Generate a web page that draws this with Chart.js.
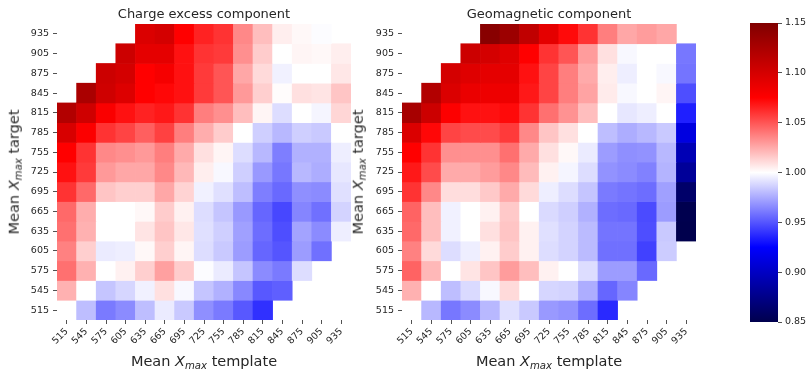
<!DOCTYPE html>
<html>
<head>
<meta charset="utf-8">
<script src="https://cdn.jsdelivr.net/npm/chart.js@4.4.1/dist/chart.umd.min.js"></script>
<style>
  body { margin: 0; width: 811px; height: 371px; background: #fff; position: relative; overflow: hidden;
         font-family: 'DejaVu Sans', sans-serif; color: #262626; }
  canvas { position: absolute; top: 0; }
  .title { position: absolute; font-size: 13px; line-height: 1; white-space: nowrap; transform: translateX(-50%); }
  .xlab { position: absolute; font-size: 14.5px; line-height: 1; white-space: nowrap; transform: translateX(-50%); }
  .ylab { position: absolute; font-size: 14.5px; line-height: 1; white-space: nowrap; transform: translate(-50%, -50%) rotate(-90deg); }
  .ax { font-style: italic; }
  .ax sub { font-size: 70%; vertical-align: baseline; position: relative; top: 0.3em; }
</style>
</head>
<body>
<canvas id="left" width="360" height="371" style="left:0px"></canvas>
<canvas id="right" width="360" height="371" style="left:345px"></canvas>
<canvas id="cbar" width="71" height="371" style="left:740px"></canvas>

<div class="title" style="left:204px; top:7px">Charge excess component</div>
<div class="title" style="left:549px; top:7px">Geomagnetic component</div>
<div class="xlab" style="left:204px; top:354px">Mean <span class="ax">X<sub>max</sub></span> template</div>
<div class="xlab" style="left:549px; top:354px">Mean <span class="ax">X<sub>max</sub></span> template</div>
<div class="ylab" style="left:14px; top:172px">Mean <span class="ax">X<sub>max</sub></span> target</div>
<div class="ylab" style="left:358px; top:172px">Mean <span class="ax">X<sub>max</sub></span> target</div>

<script>
// axes: template Xmax (columns), target Xmax (rows, top to bottom)
const xTemplates = [515, 545, 575, 605, 635, 665, 695, 725, 755, 785, 815, 845, 875, 905, 935]
const yTargets = [935, 905, 875, 845, 815, 785, 755, 725, 695, 665, 635, 605, 575, 545, 515]
const colorTicks = [0.85, 0.90, 0.95, 1.00, 1.05, 1.10, 1.15]

// ratio per cell, rows follow yTargets (null = no cell)
const chargeExcess = [
  [null, null, null, null, 1.096, 1.100, 1.075, 1.065, 1.060, 1.035, 1.019, 1.005, 1.002, 0.999, null],
  [null, null, null, 1.105, 1.090, 1.090, 1.070, 1.060, 1.058, 1.033, 1.015, 1.000, 1.003, 1.002, 1.005],
  [null, null, 1.105, 1.100, 1.075, 1.080, 1.070, 1.058, 1.050, 1.026, 1.011, 0.996, 1.000, 1.000, 1.007],
  [null, 1.125, 1.103, 1.095, 1.075, 1.073, 1.070, 1.058, 1.050, 1.030, 1.014, 1.001, 1.009, 1.008, 1.017],
  [1.120, 1.103, 1.078, 1.070, 1.065, 1.068, 1.060, 1.038, 1.033, 1.019, 1.003, 0.990, 1.000, 0.997, 1.012],
  [1.098, 1.077, 1.060, 1.055, 1.047, 1.056, 1.038, 1.024, 1.015, 1.000, 0.986, 0.979, 0.986, 0.984, 1.000],
  [1.075, 1.060, 1.035, 1.033, 1.030, 1.038, 1.025, 1.009, 1.003, 0.990, 0.979, 0.962, 0.977, 0.977, 0.995],
  [1.070, 1.058, 1.030, 1.026, 1.026, 1.035, 1.021, 1.005, 0.998, 0.986, 0.970, 0.960, 0.979, 0.976, 0.993],
  [1.060, 1.044, 1.017, 1.014, 1.014, 1.026, 1.013, 0.996, 0.991, 0.981, 0.962, 0.956, 0.967, 0.966, 0.991],
  [1.044, 1.024, 1.000, 1.000, 1.002, 1.015, 1.004, 0.990, 0.983, 0.970, 0.955, 0.946, 0.964, 0.958, 0.987],
  [1.042, 1.023, 1.000, 1.000, 1.008, 1.017, 1.007, 0.991, 0.986, 0.972, 0.957, 0.948, 0.973, 0.966, 0.995],
  [1.037, 1.014, 0.994, 0.995, 1.002, 1.014, 1.003, 0.990, 0.984, 0.971, 0.955, 0.950, 0.971, 0.958, null],
  [1.042, 1.023, 1.000, 1.004, 1.014, 1.028, 1.015, 0.999, 0.994, 0.983, 0.966, 0.961, 0.990, null, null],
  [1.023, 1.000, 0.983, 0.988, 0.996, 1.009, 0.998, 0.983, 0.977, 0.965, 0.951, 0.953, null, null, null],
  [1.000, 0.981, 0.961, 0.966, 0.981, 0.994, 0.984, 0.967, 0.961, 0.951, 0.939, null, null, null, null]
]

const geomagnetic = [
  [null, null, null, null, 1.145, 1.133, 1.112, 1.090, 1.072, 1.060, 1.038, 1.026, 1.029, 1.026, null],
  [null, null, null, 1.105, 1.100, 1.094, 1.075, 1.060, 1.050, 1.029, 1.009, 0.998, 1.000, 1.000, 0.960],
  [null, null, 1.100, 1.094, 1.090, 1.090, 1.070, 1.055, 1.038, 1.025, 1.005, 0.995, 1.000, 0.998, 0.959],
  [null, 1.120, 1.096, 1.087, 1.085, 1.085, 1.068, 1.055, 1.038, 1.027, 1.006, 0.998, 1.000, 1.003, 0.948],
  [1.127, 1.105, 1.076, 1.070, 1.070, 1.072, 1.060, 1.042, 1.032, 1.019, 1.000, 0.993, 0.995, 1.000, 0.934],
  [1.096, 1.073, 1.055, 1.053, 1.053, 1.058, 1.035, 1.017, 1.009, 1.000, 0.981, 0.976, 0.979, 0.984, 0.912],
  [1.075, 1.060, 1.033, 1.033, 1.033, 1.042, 1.025, 1.009, 1.002, 0.994, 0.971, 0.967, 0.968, 0.979, 0.894],
  [1.068, 1.053, 1.025, 1.025, 1.029, 1.035, 1.020, 1.004, 0.997, 0.990, 0.968, 0.966, 0.963, 0.978, 0.882],
  [1.060, 1.035, 1.010, 1.010, 1.016, 1.025, 1.011, 0.995, 0.990, 0.983, 0.961, 0.959, 0.957, 0.972, 0.862],
  [1.046, 1.019, 0.996, 1.000, 1.004, 1.016, 1.000, 0.989, 0.986, 0.977, 0.957, 0.956, 0.947, 0.971, 0.851],
  [1.044, 1.019, 0.996, 1.000, 1.009, 1.017, 1.004, 0.991, 0.987, 0.980, 0.959, 0.959, 0.948, 0.984, 0.850],
  [1.037, 1.011, 0.990, 0.995, 1.004, 1.015, 1.004, 0.990, 0.987, 0.980, 0.958, 0.958, 0.944, 0.985, null],
  [1.046, 1.021, 1.000, 1.008, 1.017, 1.029, 1.019, 1.004, 1.000, 0.990, 0.971, 0.971, 0.956, null, null],
  [1.023, 1.000, 0.981, 0.989, 0.998, 1.011, 1.000, 0.988, 0.987, 0.976, 0.955, 0.964, null, null, null],
  [1.000, 0.979, 0.960, 0.966, 0.979, 0.991, 0.984, 0.970, 0.968, 0.957, 0.937, null, null, null, null]
]

const vmin = 0.85
const vmax = 1.15
const cellHalf = 15

// matplotlib "seismic"
const seismicStops = [
  [0.00, [0, 0, 0.3]],
  [0.25, [0, 0, 1]],
  [0.50, [1, 1, 1]],
  [0.75, [1, 0, 0]],
  [1.00, [0.5, 0, 0]]
]

const rgbStr = (c) => `rgb(${Math.round(c[0] * 255)},${Math.round(c[1] * 255)},${Math.round(c[2] * 255)})`

const seismic = (v) => {
  let t = (v - vmin) / (vmax - vmin)
  t = Math.max(0, Math.min(1, t))
  for (let i = 1; i < seismicStops.length; i++) {
    const [t1, c1] = seismicStops[i]
    const [t0, c0] = seismicStops[i - 1]
    if (t <= t1) {
      const f = (t - t0) / (t1 - t0)
      return rgbStr(c0.map((a, k) => a + (c1[k] - a) * f))
    }
  }
  return rgbStr(seismicStops[seismicStops.length - 1][1])
}

Chart.defaults.font.family = "'DejaVu Sans', sans-serif"
Chart.defaults.font.size = 9.5
Chart.defaults.color = '#262626'

const tickGrid = {
  display: true,
  drawOnChartArea: false,
  drawTicks: true,
  offset: false,
  tickLength: 4,
  tickWidth: 0.8,
  tickColor: '#262626'
}

const buildHeatmap = (id, values) => {
  const datasets = yTargets.map((y, r) => ({
    data: values[r].map(v => (v === null ? null : [y - cellHalf, y + cellHalf])),
    backgroundColor: values[r].map(v => (v === null ? 'rgba(0,0,0,0)' : seismic(v))),
    borderWidth: 0
  }))

  return new Chart(document.getElementById(id), {
    type: 'bar',
    data: { labels: xTemplates.map(String), datasets },
    options: {
      responsive: false,
      animation: false,
      layout: { padding: { top: 24, right: 9 } },
      plugins: { legend: { display: false }, tooltip: { enabled: false } },
      datasets: { bar: { grouped: false, barPercentage: 1, categoryPercentage: 1 } },
      scales: {
        x: {
          type: 'category',
          grid: tickGrid,
          border: { display: false },
          ticks: { autoSkip: false, minRotation: 45, maxRotation: 45, padding: 2 },
          afterFit: (s) => { s.height = 51 }
        },
        y: {
          type: 'linear',
          min: 500,
          max: 950,
          grid: tickGrid,
          border: { display: false },
          ticks: { padding: 4 },
          afterBuildTicks: (s) => { s.ticks = yTargets.map(v => ({ value: v })) },
          afterFit: (s) => { s.width = 57 }
        }
      }
    }
  })
}

buildHeatmap('left', chargeExcess)
buildHeatmap('right', geomagnetic)

// colour bar
new Chart(document.getElementById('cbar'), {
  type: 'bar',
  data: {
    labels: [''],
    datasets: [{
      data: [[vmin, vmax]],
      borderWidth: 0,
      barPercentage: 1,
      categoryPercentage: 1,
      backgroundColor: (ctx) => {
        const area = ctx.chart.chartArea
        if (!area) return '#fff'
        const g = ctx.chart.ctx.createLinearGradient(0, area.bottom, 0, area.top)
        seismicStops.forEach(([t, c]) => g.addColorStop(t, rgbStr(c)))
        return g
      }
    }]
  },
  options: {
    responsive: false,
    animation: false,
    layout: { padding: { top: 23, left: 10, bottom: 49 } },
    plugins: { legend: { display: false }, tooltip: { enabled: false } },
    scales: {
      x: { display: false },
      y: {
        position: 'right',
        min: vmin,
        max: vmax,
        grid: tickGrid,
        border: { display: false },
        ticks: { padding: 3, callback: (v) => Number(v).toFixed(2) },
        afterBuildTicks: (s) => { s.ticks = colorTicks.map(v => ({ value: v })) },
        afterFit: (s) => { s.width = 33 }
      }
    }
  }
})
</script>
</body>
</html>
